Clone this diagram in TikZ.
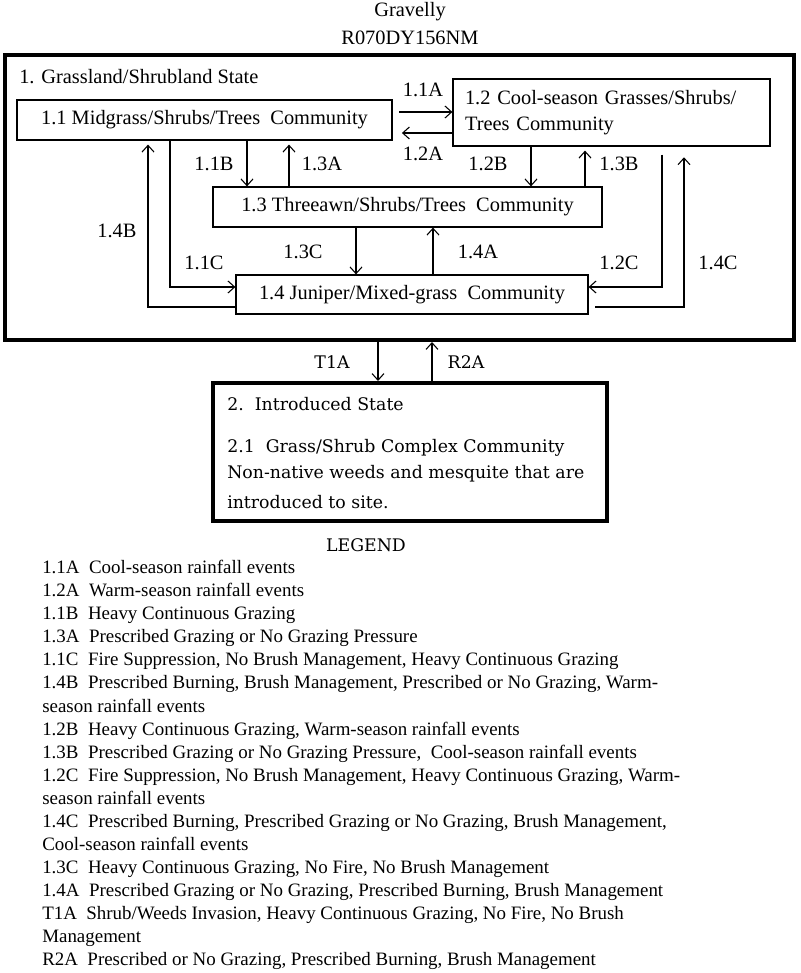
\documentclass[tikz,border=0pt]{standalone}
\usepackage{fontspec}
\setmainfont{Liberation Serif}
\newfontfamily\wideserif{DejaVu Serif}
\usetikzlibrary{arrows.meta}
\newcommand{\boxfont}{\fontsize{15.3}{18}\selectfont}
\newcommand{\legfont}{\fontsize{14.2}{17.3}\selectfont}
\newcommand{\wfont}{\wideserif\fontsize{13}{15}\selectfont}
\begin{document}
\begin{tikzpicture}[x=0.75pt,y=-0.75pt,
  box/.style={draw, line width=0.9pt, inner sep=0pt, font=\boxfont},
  statebox/.style={draw, line width=3pt, inner sep=0pt},
  lab/.style={inner sep=0pt, font=\boxfont},
  wlab/.style={inner sep=0pt, font=\wfont},
  arr/.style={line width=0.8pt, -{Straight Barb[length=5pt,width=9pt]}},
  ln/.style={line width=0.8pt}]
\useasboundingbox[fill=white] (0,0) rectangle (800,973);

% title
\node[lab] (t1) at (410,12) {Gravelly};
\node[lab] (t2) at (410,38) {R070DY156NM};

% state 1
\node[statebox, minimum width=789*0.75pt, minimum height=285*0.75pt] (s1) at (399.5,197.5) {};
\node[lab, anchor=west] (s1lab) at (19,77) {1. Grassland/Shrubland State};

% communities
\node[box, minimum width=375*0.75pt, minimum height=40*0.75pt] (b11) at (204.5,120) {1.1 Midgrass/Shrubs/Trees\ \ Community};
\node[box, minimum width=317*0.75pt, minimum height=67*0.75pt, text width=293*0.75pt, align=left] (b12) at (611.5,112.5) {1.2 Cool-season Grasses/Shrubs/\\[1.5pt]Trees Community};
\node[box, minimum width=389*0.75pt, minimum height=40*0.75pt] (b13) at (407.5,207) {1.3 Threeawn/Shrubs/Trees\ \ Community};
\node[box, minimum width=352*0.75pt, minimum height=39*0.75pt] (b14) at (412,294.5) {1.4 Juniper/Mixed-grass\ \ Community};

% state 2
\node[statebox, minimum width=394*0.75pt, minimum height=138*0.75pt] (s2) at (410,452) {};
\node[wlab, anchor=west] (s2lab) at (227,404) {2.\ \ Introduced State};
\node[wlab, anchor=west] (s2c1) at (227,448) {2.1\ \ Grass/Shrub Complex Community};
\node[wlab, anchor=west] (s2c2) at (227,474) {Non-native weeds and mesquite that are};
\node[wlab, anchor=west] (s2c3) at (227,502) {introduced to site.};

% connectors
\draw[arr, shorten <=5pt] (b11.east |- 0,112) -- (b12.west |- 0,112);
\draw[arr, shorten >=7pt] (b12.west |- 0,133) -- (b11.east |- 0,133);
\draw[arr] (b11.south -| 247,0) -- (b13.north -| 247,0);
\draw[arr, shorten >=3pt] (b13.north -| 289,0) -- (b11.south -| 289,0);
\draw[arr] (b12.south -| 531,0) -- (b13.north -| 531,0);
\draw[arr, shorten >=3pt] (b13.north -| 585,0) -- (b12.south -| 585,0);
\draw[arr, shorten <=6pt] (b12.south -| 662,0) |- (b14.east |- 0,287);
\draw[arr, shorten <=5pt, shorten >=8pt] (b14.east |- 0,307) -| (b12.south -| 684,0);
\draw[arr, shorten >=3pt] (b14.west |- 0,307) -| (b11.south -| 148,0);
\draw[arr] (b11.south -| 170,0) |- (b14.west |- 0,287);
\draw[arr] (b13.south -| 356,0) -- (b14.north -| 356,0);
\draw[arr] (b14.north -| 433,0) -- (b13.south -| 433,0);
\draw[arr] (s1.south -| 378,0) -- (s2.north -| 378,0);
\draw[arr] (s2.north -| 432,0) -- (s1.south -| 432,0);

% connector labels
\node[lab] (l11A) at (423,90) {1.1A};
\node[lab] (l12A) at (423,154) {1.2A};
\node[lab] (l11B) at (214,164) {1.1B};
\node[lab] (l13A) at (322,164) {1.3A};
\node[lab] (l12B) at (488,164) {1.2B};
\node[lab] (l13B) at (619,164) {1.3B};
\node[lab] (l14B) at (117,231) {1.4B};
\node[lab] (l11C) at (204,263) {1.1C};
\node[lab] (l13C) at (303,252) {1.3C};
\node[lab] (l14A) at (478,252) {1.4A};
\node[lab] (l12C) at (619,263) {1.2C};
\node[lab] (l14C) at (718,263) {1.4C};
\node[wlab] (lT1A) at (332,362) {T1A};
\node[wlab] (lR2A) at (466,362) {R2A};

% legend
\node[wlab] (leghead) at (366,545) {LEGEND};
\node[anchor=north west, align=left, inner sep=0pt, font=\legfont] (legend) at (42,560) {%
1.1A\ \ Cool-season rainfall events\\
1.2A\ \ Warm-season rainfall events\\
1.1B\ \ Heavy Continuous Grazing\\
1.3A\ \ Prescribed Grazing or No Grazing Pressure\\
1.1C\ \ Fire Suppression, No Brush Management, Heavy Continuous Grazing\\
1.4B\ \ Prescribed Burning, Brush Management, Prescribed or No Grazing, Warm-\\
season rainfall events\\
1.2B\ \ Heavy Continuous Grazing, Warm-season rainfall events\\
1.3B\ \ Prescribed Grazing or No Grazing Pressure,\ \ Cool-season rainfall events\\
1.2C\ \ Fire Suppression, No Brush Management, Heavy Continuous Grazing, Warm-\\
season rainfall events\\
1.4C\ \ Prescribed Burning, Prescribed Grazing or No Grazing, Brush Management,\\
Cool-season rainfall events\\
1.3C\ \ Heavy Continuous Grazing, No Fire, No Brush Management\\
1.4A\ \ Prescribed Grazing or No Grazing, Prescribed Burning, Brush Management\\
T1A\ \ Shrub/Weeds Invasion, Heavy Continuous Grazing, No Fire, No Brush\\
Management\\
R2A\ \ Prescribed or No Grazing, Prescribed Burning, Brush Management};
\end{tikzpicture}
\end{document}
